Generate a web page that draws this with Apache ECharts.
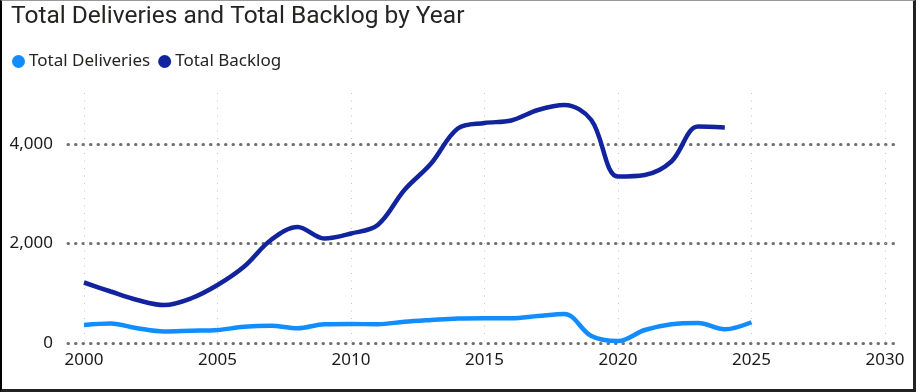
<!DOCTYPE html>
<html>
<head>
<meta charset="utf-8">
<script src="https://cdn.jsdelivr.net/npm/echarts@6/dist/echarts.min.js"></script>
<style>
html,body{margin:0;padding:0;background:#fff;}
#frame{position:absolute;left:0;top:0;width:916px;height:392px;box-sizing:border-box;border-left:2px solid #000;border-top:1px solid #999;border-right:3px solid #222;border-bottom:3px solid #222;}
#chart{position:absolute;left:0;top:0;width:916px;height:392px;}
</style>
</head>
<body>
<div id="chart"></div>
<div id="frame"></div>
<script>
const years = [2000,2001,2002,2003,2004,2005,2006,2007,2008,2009,2010,2011,2012,2013,2014,2015,2016,2017,2018,2019,2020,2021,2022,2023,2024,2025];
const totalDeliveries = [360,390,295,230,245,260,325,345,295,375,380,375,425,460,490,495,495,540,580,140,40,260,375,400,275,415];
const backlogYears = [2000,2001,2002,2003,2004,2005,2006,2007,2008,2009,2010,2011,2012,2013,2014,2015,2016,2017,2018,2019,2020,2021,2022,2023,2024];
const totalBacklog = [1210,1030,860,760,890,1160,1530,2060,2320,2090,2190,2360,3060,3590,4290,4400,4450,4660,4760,4460,3330,3360,3630,4330,4310];
const xTicks = [2000,2005,2010,2015,2020,2025,2030];
const yTicks = [0,2000,4000];

const chart = echarts.init(document.getElementById('chart'), null, {renderer:'canvas'});
const font = "'Segoe UI', 'Noto Sans', sans-serif";
chart.setOption({
  animation:false,
  backgroundColor:'#fff',
  title:{text:'Total Deliveries and Total Backlog by Year',left:11,top:4,padding:0,
    textStyle:{fontFamily:"Roboto, sans-serif",fontSize:24.5,fontWeight:'normal',color:'#252423'}},
  legend:{left:12,top:53,padding:0,icon:'circle',itemWidth:13,itemHeight:13,itemGap:8,
    textStyle:{fontFamily:font,fontSize:17,color:'#252423',padding:[0,0,0,-1]},
    data:['Total Deliveries','Total Backlog']},
  grid:[
    {left:68,right:16,top:144,bottom:49},
    {left:84,right:31,top:93,bottom:49}
  ],
  xAxis:[
    {gridIndex:0,type:'value',min:0,max:1,show:false},
    {gridIndex:1,type:'value',min:xTicks[0],max:xTicks[xTicks.length-1],interval:5,
      axisLine:{show:false},axisTick:{show:false},
      axisLabel:{margin:9,fontFamily:font,fontSize:17,color:'#1a1a1a',formatter:v=>String(v)},
      splitLine:{show:true,lineStyle:{color:'#c4c4c4',width:1,type:[1,6.5]}}}
  ],
  yAxis:[
    {gridIndex:0,type:'value',min:yTicks[0],max:yTicks[yTicks.length-1],interval:2000,
      axisLine:{show:false},axisTick:{show:false},
      axisLabel:{margin:15,fontFamily:font,fontSize:17,color:'#1a1a1a',
        formatter:v=>v.toLocaleString('en-US')},
      splitLine:{show:true,lineStyle:{color:'#707070',width:3,type:[0.5,7],cap:'round'}}},
    {gridIndex:1,type:'value',min:0,max:5000,show:false,splitLine:{show:false}}
  ],
  series:[
    {name:'Total Deliveries',type:'line',xAxisIndex:1,yAxisIndex:1,smooth:0.35,symbol:'none',
      color:'#118DFF',lineStyle:{width:4.5,color:'#118DFF'},
      data:years.map((y,i)=>[y,totalDeliveries[i]])},
    {name:'Total Backlog',type:'line',xAxisIndex:1,yAxisIndex:1,smooth:0.35,symbol:'none',
      color:'#12239E',lineStyle:{width:4.5,color:'#12239E'},
      data:backlogYears.map((y,i)=>[y,totalBacklog[i]])}
  ]
});
</script>
</body>
</html>
